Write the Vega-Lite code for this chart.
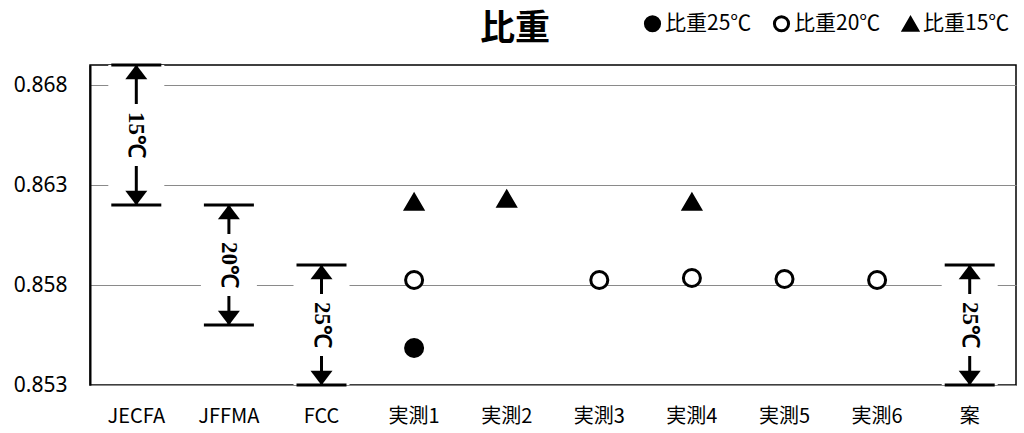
{
  "$schema": "https://vega.github.io/schema/vega-lite/v6.json",
  "width": 926,
  "height": 320,
  "autosize": {"type": "none"},
  "padding": {"left": 90, "top": 65, "right": 8, "bottom": 48},
  "background": "white",
  "title": {"text": "比重", "anchor": "start", "frame": "group", "dx": 390, "fontSize": 35, "fontWeight": "bold", "font": "Noto Sans CJK JP", "offset": -34, "color": "black"},
  "datasets": {
    "ranges": [
      {"cat": "JECFA", "lo": 0.862, "hi": 0.869, "mid": 0.8655, "label": "15℃"},
      {"cat": "JFFMA", "lo": 0.856, "hi": 0.862, "mid": 0.859, "label": "20℃"},
      {"cat": "FCC", "lo": 0.853, "hi": 0.859, "mid": 0.856, "label": "25℃"},
      {"cat": "案", "lo": 0.853, "hi": 0.859, "mid": 0.856, "label": "25℃"}
    ],
    "points": [
      {"cat": "実測1", "series": "比重25℃", "value": 0.85485},
      {"cat": "実測1", "series": "比重20℃", "value": 0.85825},
      {"cat": "実測3", "series": "比重20℃", "value": 0.85825},
      {"cat": "実測4", "series": "比重20℃", "value": 0.85835},
      {"cat": "実測5", "series": "比重20℃", "value": 0.8583},
      {"cat": "実測6", "series": "比重20℃", "value": 0.85825},
      {"cat": "実測1", "series": "比重15℃", "value": 0.86215},
      {"cat": "実測2", "series": "比重15℃", "value": 0.8623},
      {"cat": "実測4", "series": "比重15℃", "value": 0.86215}
    ]
  },
  "encoding": {
    "x": {
      "field": "cat", "type": "nominal", "title": null,
      "scale": {"domain": ["JECFA", "JFFMA", "FCC", "実測1", "実測2", "実測3", "実測4", "実測5", "実測6", "案"], "paddingInner": 0, "paddingOuter": 0},
      "axis": {"labelAngle": 0, "ticks": false, "domain": false, "labelFontSize": 20, "labelPadding": 21, "labelFont": "Noto Sans CJK JP", "labelColor": "black"}
    }
  },
  "layer": [
    {
      "data": {"name": "ranges"},
      "mark": {"type": "bar", "width": 56, "fill": "white"},
      "encoding": {
        "y": {"field": "lo", "type": "quantitative", "title": null,
          "scale": {"domain": [0.853, 0.869], "nice": false, "zero": false},
          "axis": {"values": [0.853, 0.858, 0.863, 0.868], "format": ".3f", "ticks": false, "domain": true, "domainColor": "black", "domainWidth": 2, "grid": true, "gridColor": "#8a8a8a", "gridWidth": 1, "labelFontSize": 21, "labelPadding": 23, "labelFont": "Noto Sans", "labelColor": "black"}},
        "y2": {"field": "hi"}
      }
    },
    {
      "data": {"name": "ranges"},
      "mark": {"type": "rule", "color": "black", "strokeWidth": 3, "y2Offset": -31},
      "encoding": {"y": {"field": "hi", "type": "quantitative", "title": null}, "y2": {"field": "mid"}}
    },
    {
      "data": {"name": "ranges"},
      "mark": {"type": "rule", "color": "black", "strokeWidth": 3, "yOffset": 31},
      "encoding": {"y": {"field": "mid", "type": "quantitative", "title": null}, "y2": {"field": "lo"}}
    },
    {
      "data": {"name": "ranges"},
      "mark": {"type": "tick", "color": "black", "size": 50, "thickness": 3, "opacity": 1},
      "encoding": {"y": {"field": "hi", "type": "quantitative", "title": null}}
    },
    {
      "data": {"name": "ranges"},
      "mark": {"type": "tick", "color": "black", "size": 50, "thickness": 3, "opacity": 1},
      "encoding": {"y": {"field": "lo", "type": "quantitative", "title": null}}
    },
    {
      "data": {"name": "ranges"},
      "mark": {"type": "point", "shape": "M-1,0.65L1,0.65L0,-0.65Z", "filled": true, "color": "black", "size": 484, "opacity": 1, "yOffset": 7},
      "encoding": {"y": {"field": "hi", "type": "quantitative", "title": null}}
    },
    {
      "data": {"name": "ranges"},
      "mark": {"type": "point", "shape": "M-1,-0.65L1,-0.65L0,0.65Z", "filled": true, "color": "black", "size": 484, "opacity": 1, "yOffset": -7},
      "encoding": {"y": {"field": "lo", "type": "quantitative", "title": null}}
    },
    {
      "data": {"name": "ranges"},
      "mark": {"type": "text", "angle": 90, "align": "center", "baseline": "middle", "fontSize": 23, "fontWeight": "bold", "font": "Liberation Sans Narrow", "color": "black"},
      "encoding": {"y": {"field": "mid", "type": "quantitative", "title": null}, "text": {"field": "label"}}
    },
    {
      "data": {"name": "points"},
      "mark": {"type": "point", "filled": true, "stroke": "black", "strokeWidth": 3, "size": 290, "opacity": 1},
      "encoding": {
        "y": {"field": "value", "type": "quantitative", "title": null},
        "shape": {"field": "series", "type": "nominal", "title": null,
          "scale": {"domain": ["比重25℃", "比重20℃", "比重15℃"], "range": ["circle", "circle", "triangle-up"]}},
        "fill": {"field": "series", "type": "nominal", "title": null,
          "scale": {"domain": ["比重25℃", "比重20℃", "比重15℃"], "range": ["black", "white", "black"]},
          "legend": {"orient": "none", "legendX": 552, "legendY": -52, "padding": 0, "direction": "horizontal", "labelFontSize": 21, "labelFont": "Noto Sans CJK JP", "labelColor": "black", "symbolSize": 200, "symbolStrokeWidth": 3, "symbolStrokeColor": "black", "columnPadding": 16, "labelOffset": 2}}
      }
    }
  ],
  "config": {
    "view": {"stroke": "black", "strokeWidth": 1.5},
    "axis": {"titleColor": "black"}
  }
}
